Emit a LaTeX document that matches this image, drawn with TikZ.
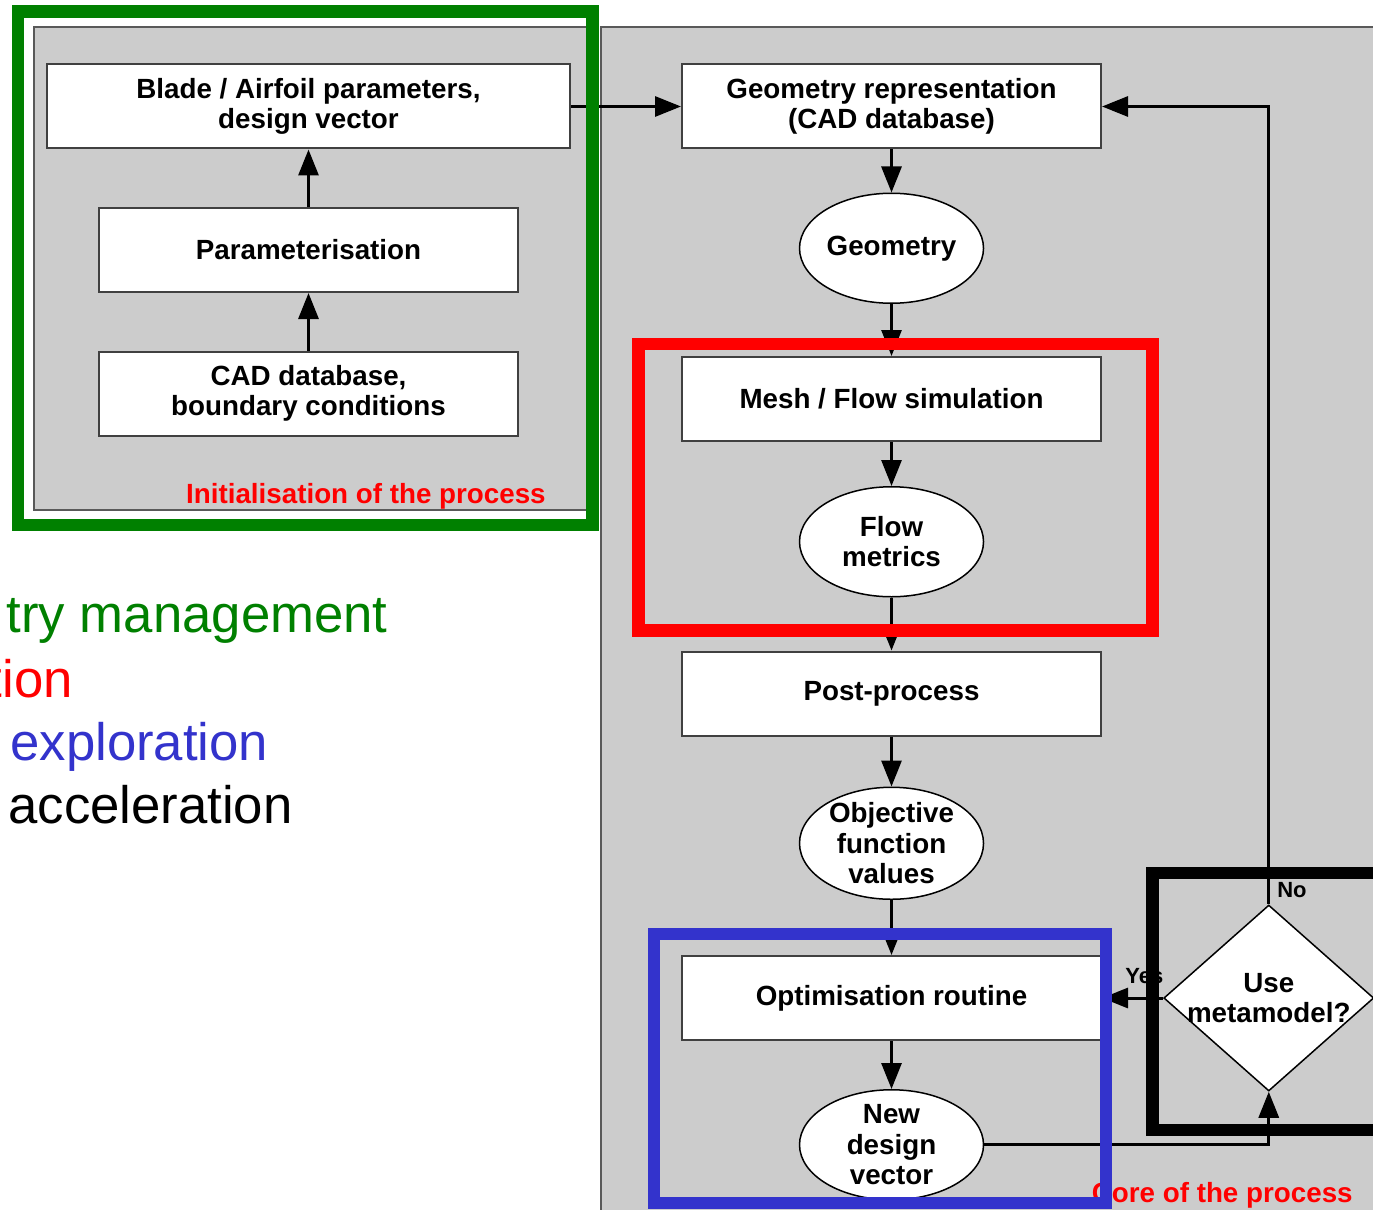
\documentclass[tikz,border=0pt]{standalone}
\usepackage{fontspec}
\setmainfont{Liberation Sans}
\usetikzlibrary{shapes.geometric, arrows.meta, positioning}
\definecolor{panelgray}{HTML}{CCCCCC}
\definecolor{framegreen}{HTML}{008000}
\definecolor{frameblue}{HTML}{3333CC}
\newcommand{\boxfont}{\fontsize{15.8}{17.3}\selectfont\bfseries}
\newcommand{\legendfont}{\fontsize{30}{36}\selectfont}

\begin{document}
\begin{tikzpicture}[
  x=0.2mm, y=-0.2mm,
  procbox/.style={draw=black!75, line width=0.4mm, fill=white, minimum width=83.8mm, minimum height=16.8mm, align=center, font=\boxfont},
  databox/.style={ellipse, draw, line width=0.3mm, fill=white, minimum width=36.8mm, minimum height=22mm, inner sep=-3mm, align=center, font=\boxfont},
  decision/.style={diamond, draw, line width=0.3mm, fill=white, minimum width=42mm, minimum height=37.2mm, inner sep=0pt},
  stage/.style={fill=panelgray, draw=black!65, line width=0.4mm},
  highlight/.style={line width=2.5mm},
  arrow/.style={line width=0.6mm, -{Triangle[length=5.2mm, width=4mm]}},
  phase/.style={font=\boxfont, text=red, inner sep=0pt},
  answer/.style={font=\fontsize{12.5}{14}\selectfont\bfseries, inner sep=0pt},
  legendtext/.style={font=\legendfont, inner sep=0pt}
]
  \useasboundingbox (0,0) rectangle (1373,1210);
  \clip (0,0) rectangle (1373,1210);
  \fill[white] (0,0) rectangle (1373,1210);

  % Grey panels
  \draw[stage] (33.5,27) rectangle (587,510);
  \draw[stage] (601,27) rectangle (1400,1240);

  % Panel captions
  \node[phase, anchor=base east] (initlabel) at (546,503) {Initialisation of the process};
  \node[phase, anchor=base east] (corelabel) at (1353,1202) {Core of the process};
  \node[answer, anchor=base west] (nolabel) at (1277,897) {No};
  \node[answer, anchor=base west] (yeslabel) at (1125,983) {Yes};

  % Initialisation chain
  \node[procbox, minimum width=104.6mm] (blade) at (308.5,106.5) {Blade / Airfoil parameters,\\design vector};
  \node[procbox, below=11.5mm of blade] (param) {Parameterisation};
  \node[procbox, below=11.5mm of param] (cad) {CAD database,\\boundary conditions};

  % Core chain
  \node[procbox, right=22mm of blade] (georep) {Geometry representation\\(CAD database)};
  \node[databox, below=8.6mm of georep] (geom) {Geometry};
  \node[procbox, below=10.4mm of geom] (mesh) {Mesh / Flow simulation};
  \node[databox, below=8.8mm of mesh] (flow) {Flow\\metrics};
  \node[procbox, below=10.6mm of flow] (post) {Post-process};
  \node[databox, minimum height=22.4mm, below=10mm of post] (obj) {Objective\\function\\values};
  \node[procbox, below=11mm of obj] (opt) {Optimisation routine};
  \node[databox, below=9.6mm of opt] (newdv) {New\\design\\vector};

  % Decision
  \node[decision, right=12.2mm of opt] (meta) {};
  \node[font=\boxfont, align=center] (metatext) at (meta) {Use\\metamodel?};

  % Arrows
  \draw[arrow] (cad) -- (param);
  \draw[arrow] (param) -- (blade);
  \draw[arrow] (blade) -- (georep);
  \draw[arrow] (georep) -- (geom);
  \draw[arrow] (geom) -- (mesh);
  \draw[arrow] (mesh) -- (flow);
  \draw[arrow] (flow) -- (post);
  \draw[arrow] (post) -- (obj);
  \draw[arrow] (obj) -- (opt);
  \draw[arrow] (opt) -- (newdv);
  \draw[arrow] (meta) -- (opt);
  \draw[arrow] (meta.north) |- (georep.east);
  \draw[arrow] (newdv.east) -| (meta.south);

  % Coloured highlights
  \draw[highlight, framegreen] (18,11.5) rectangle (592.5,525);
  \draw[highlight, red] (638.5,344) rectangle (1152.5,630.5);
  \draw[highlight, frameblue] (654,934) rectangle (1106,1203);
  \draw[highlight, black] (1152.5,873) rectangle (1420,1130);

  % Legend
  \node[legendtext, text=framegreen, anchor=base east] (leggeo) at (388,632) {try management};
  \node[legendtext, text=red, anchor=base east] (legsim) at (73,697) {tion};
  \node[legendtext, text=frameblue, anchor=base west] (legexp) at (10,760) {exploration};
  \node[legendtext, anchor=base west] (legacc) at (8,823) {acceleration};
\end{tikzpicture}
\end{document}
